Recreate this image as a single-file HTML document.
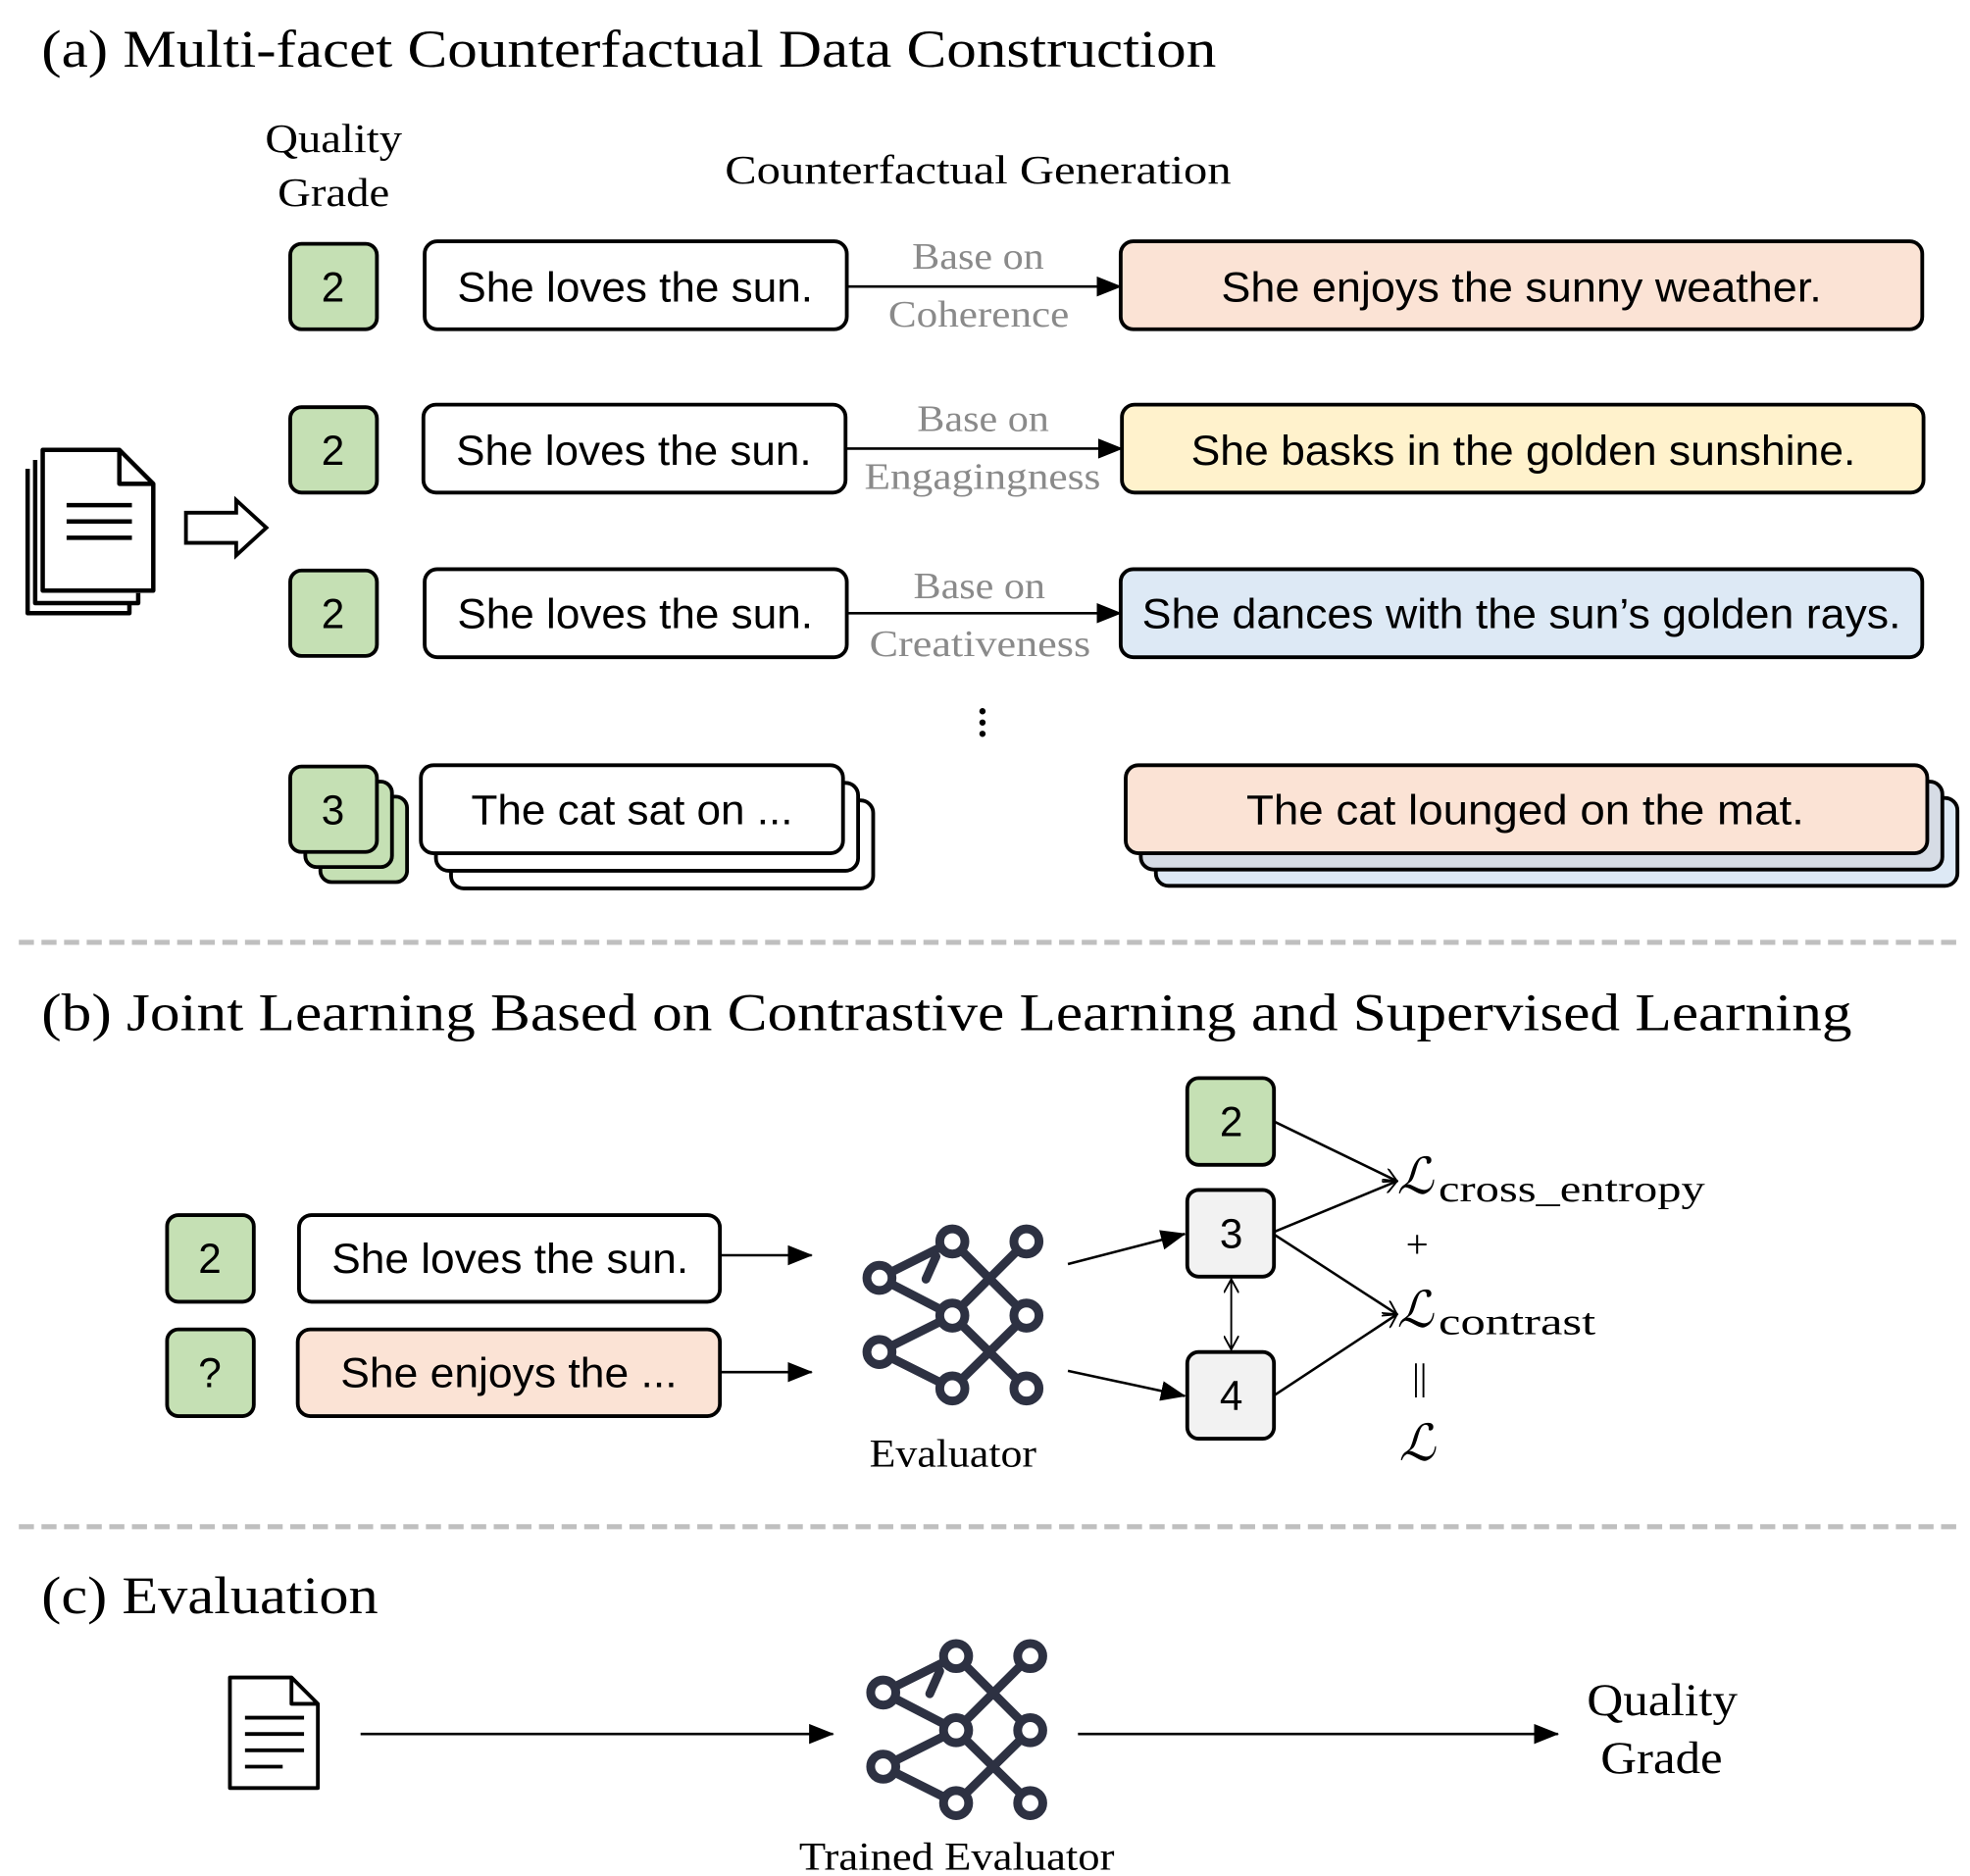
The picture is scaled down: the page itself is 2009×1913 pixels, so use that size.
<!DOCTYPE html>
<html><head><meta charset="utf-8"><style>html,body{margin:0;padding:0;background:#fff}svg{display:block}</style></head>
<body>
<svg width="2009" height="1913" viewBox="0 0 1568 1493" xmlns="http://www.w3.org/2000/svg">
<defs>
<marker id="ah2" markerWidth="20" markerHeight="16" refX="19" refY="8" orient="auto" markerUnits="userSpaceOnUse"><path d="M0,0 L20,8 L0,16 Z" fill="#000"/></marker>
<marker id="ao" markerWidth="12" markerHeight="12" refX="11" refY="6" orient="auto-start-reverse" markerUnits="userSpaceOnUse"><path d="M0,0 L11,6 L0,12" fill="none" stroke="#000" stroke-width="1.5"/></marker>
</defs>
<g font-family="Liberation Serif, serif" fill="#000" lengthAdjust="spacingAndGlyphs">
<text x="33" y="53" font-size="42" textLength="935" lengthAdjust="spacingAndGlyphs">(a) Multi-facet Counterfactual Data Construction</text>
<text x="211" y="121" font-size="32" textLength="109" lengthAdjust="spacingAndGlyphs">Quality</text>
<text x="221" y="164" font-size="32" textLength="89" lengthAdjust="spacingAndGlyphs">Grade</text>
<text x="577" y="146" font-size="32" textLength="403" lengthAdjust="spacingAndGlyphs">Counterfactual Generation</text>
<g fill="#8a8a8a" font-size="30">
<text x="726" y="214" textLength="105" lengthAdjust="spacingAndGlyphs">Base on</text><text x="707" y="260" textLength="144" lengthAdjust="spacingAndGlyphs">Coherence</text>
<text x="730" y="343" textLength="105" lengthAdjust="spacingAndGlyphs">Base on</text><text x="688" y="389" textLength="188" lengthAdjust="spacingAndGlyphs">Engagingness</text>
<text x="727" y="476" textLength="105" lengthAdjust="spacingAndGlyphs">Base on</text><text x="692" y="522" textLength="176" lengthAdjust="spacingAndGlyphs">Creativeness</text>
</g>
<text x="33" y="820" font-size="42" textLength="1441" lengthAdjust="spacingAndGlyphs">(b) Joint Learning Based on Contrastive Learning and Supervised Learning</text>
<text x="33" y="1284" font-size="42" textLength="268" lengthAdjust="spacingAndGlyphs">(c) Evaluation</text>
<text x="692" y="1167" font-size="31" textLength="133" lengthAdjust="spacingAndGlyphs">Evaluator</text>
<text x="636" y="1488" font-size="31" textLength="251" lengthAdjust="spacingAndGlyphs">Trained Evaluator</text>
<text x="1263" y="1365" font-size="36" textLength="120" lengthAdjust="spacingAndGlyphs">Quality</text>
<text x="1274" y="1411" font-size="36" textLength="97" lengthAdjust="spacingAndGlyphs">Grade</text>
<text x="1112" y="950" font-size="40" font-style="italic">ℒ</text>
<text x="1145" y="956" font-size="30" textLength="212" lengthAdjust="spacingAndGlyphs">cross_entropy</text>
<text x="1128" y="1001" font-size="32" text-anchor="middle">+</text>
<text x="1112" y="1056" font-size="40" font-style="italic">ℒ</text>
<text x="1145" y="1062" font-size="30" textLength="125" lengthAdjust="spacingAndGlyphs">contrast</text>
<text x="1130" y="1106" font-size="30" text-anchor="middle">||</text>
<text x="1128" y="1162" font-size="40" font-style="italic" text-anchor="middle">ℒ</text>
</g>

<g stroke="#000" stroke-width="3" font-family="Liberation Sans, sans-serif" font-size="33">
<rect x="231" y="194" width="69" height="68" rx="9" fill="#c5e0b4"/>
<rect x="338" y="192" width="336" height="70" rx="10" fill="#fff"/>
<rect x="892" y="192" width="638" height="70" rx="10" fill="#fbe3d5"/>
<rect x="231" y="324" width="69" height="68" rx="9" fill="#c5e0b4"/>
<rect x="337" y="322" width="336" height="70" rx="10" fill="#fff"/>
<rect x="893" y="322" width="638" height="70" rx="10" fill="#fff2cc"/>
<rect x="231" y="454" width="69" height="68" rx="9" fill="#c5e0b4"/>
<rect x="338" y="453" width="336" height="70" rx="10" fill="#fff"/>
<rect x="892" y="453" width="638" height="70" rx="10" fill="#dde9f5"/>
<rect x="255" y="634" width="69" height="68" rx="9" fill="#c5e0b4"/>
<rect x="243" y="622" width="69" height="68" rx="9" fill="#c5e0b4"/>
<rect x="231" y="610" width="69" height="68" rx="9" fill="#c5e0b4"/>
<rect x="359" y="637" width="336" height="70" rx="10" fill="#fff"/>
<rect x="347" y="623" width="336" height="70" rx="10" fill="#fff"/>
<rect x="335" y="609" width="336" height="70" rx="10" fill="#fff"/>
<rect x="920" y="635" width="638" height="70" rx="10" fill="#dde9f5"/>
<rect x="908" y="622" width="638" height="70" rx="10" fill="#d6dce5"/>
<rect x="896" y="609" width="638" height="70" rx="10" fill="#fbe3d5"/>
<rect x="133" y="967" width="69" height="69" rx="9" fill="#c5e0b4"/>
<rect x="238" y="967" width="335" height="69" rx="10" fill="#fff"/>
<rect x="133" y="1058" width="69" height="69" rx="9" fill="#c5e0b4"/>
<rect x="237" y="1058" width="336" height="69" rx="10" fill="#fbe3d5"/>
<rect x="945" y="858" width="69" height="69" rx="9" fill="#c5e0b4"/>
<rect x="945" y="947" width="69" height="69" rx="9" fill="#f2f2f2"/>
<rect x="945" y="1076" width="69" height="69" rx="9" fill="#f2f2f2"/>
<g stroke="none" fill="#000">
<g text-anchor="middle">
<text x="265" y="240">2</text><text x="265" y="370">2</text><text x="265" y="500">2</text><text x="265" y="656">3</text>
<text x="167" y="1013">2</text><text x="167" y="1104">?</text>
<text x="980" y="904">2</text><text x="980" y="993">3</text><text x="980" y="1122">4</text>
</g>
<text x="364" y="240" textLength="283" lengthAdjust="spacingAndGlyphs">She loves the sun.</text>
<text x="363" y="370" textLength="283" lengthAdjust="spacingAndGlyphs">She loves the sun.</text>
<text x="364" y="500" textLength="283" lengthAdjust="spacingAndGlyphs">She loves the sun.</text>
<text x="375" y="656" textLength="256" lengthAdjust="spacingAndGlyphs">The cat sat on ...</text>
<text x="972" y="240" textLength="478" lengthAdjust="spacingAndGlyphs">She enjoys the sunny weather.</text>
<text x="948" y="370" textLength="529" lengthAdjust="spacingAndGlyphs">She basks in the golden sunshine.</text>
<text x="909" y="500" textLength="604" lengthAdjust="spacingAndGlyphs">She dances with the sun’s golden rays.</text>
<text x="992" y="656" textLength="444" lengthAdjust="spacingAndGlyphs">The cat lounged on the mat.</text>
<text x="264" y="1013" textLength="284" lengthAdjust="spacingAndGlyphs">She loves the sun.</text>
<text x="271" y="1104" textLength="268" lengthAdjust="spacingAndGlyphs">She enjoys the ...</text>
</g>
</g>

<g stroke="#000" stroke-width="2" fill="none">
<line x1="674" y1="228" x2="892" y2="228" marker-end="url(#ah2)"/>
<line x1="673" y1="357" x2="893" y2="357" marker-end="url(#ah2)"/>
<line x1="674" y1="488" x2="892" y2="488" marker-end="url(#ah2)"/>
<line x1="573" y1="999" x2="646" y2="999" marker-end="url(#ah2)"/>
<line x1="573" y1="1092" x2="646" y2="1092" marker-end="url(#ah2)"/>
<line x1="850" y1="1006" x2="943" y2="982" marker-end="url(#ah2)"/>
<line x1="850" y1="1091" x2="943" y2="1111" marker-end="url(#ah2)"/>
<line x1="980" y1="1018" x2="980" y2="1074" marker-start="url(#ao)" marker-end="url(#ao)" stroke-width="1.5"/>
<line x1="1015" y1="893" x2="1112" y2="940" marker-end="url(#ao)"/>
<line x1="1015" y1="980" x2="1112" y2="940" marker-end="url(#ao)"/>
<line x1="1015" y1="983" x2="1112" y2="1046" marker-end="url(#ao)"/>
<line x1="1015" y1="1110" x2="1112" y2="1046" marker-end="url(#ao)"/>
<line x1="287" y1="1380" x2="663" y2="1380" marker-end="url(#ah2)"/>
<line x1="858" y1="1380" x2="1240" y2="1380" marker-end="url(#ah2)"/>
</g>
<g fill="#000"><circle cx="782" cy="566" r="2.5"/><circle cx="782" cy="575" r="2.5"/><circle cx="782" cy="584" r="2.5"/></g>

<line x1="15" y1="750" x2="1563" y2="750" stroke="#bfbfbf" stroke-width="4" stroke-dasharray="12 6"/>
<line x1="15" y1="1215" x2="1563" y2="1215" stroke="#bfbfbf" stroke-width="4" stroke-dasharray="12 6"/>

<g stroke="#000" stroke-width="3.5" fill="#fff" stroke-linejoin="round">
<path d="M22,373 L22,488 L103,488 L103,480"/>
<path d="M28,366 L28,480 L110,480 L110,472"/>
<path d="M34,358 L95,358 L122,385 L122,470 L34,470 Z"/>
<path d="M95,358 L95,385 L122,385" fill="none"/>
<line x1="53" y1="402" x2="105" y2="402"/><line x1="53" y1="415" x2="105" y2="415"/><line x1="53" y1="428" x2="105" y2="428"/>
</g>
<path d="M148,408 L188,408 L188,398 L212,420 L188,442 L188,432 L148,432 Z" fill="#fff" stroke="#000" stroke-width="3"/>
<g stroke="#000" stroke-width="3" fill="#fff" stroke-linejoin="round">
<path d="M183,1335 L232,1335 L253,1356 L253,1423 L183,1423 Z"/>
<path d="M232,1335 L232,1356 L253,1356" fill="none"/>
<line x1="195" y1="1367" x2="242" y2="1367"/><line x1="195" y1="1380" x2="242" y2="1380"/><line x1="195" y1="1393" x2="242" y2="1393"/><line x1="195" y1="1406" x2="225" y2="1406"/>
</g>

<g id="net" stroke="#2d3142" stroke-width="7" fill="#fff" stroke-linecap="round">
<line x1="700" y1="1017" x2="758" y2="988"/><line x1="700" y1="1017" x2="758" y2="1047"/>
<line x1="700" y1="1076" x2="758" y2="1047"/><line x1="700" y1="1076" x2="758" y2="1105"/>
<line x1="758" y1="988" x2="817" y2="1047"/><line x1="758" y1="1047" x2="817" y2="988"/>
<line x1="758" y1="1047" x2="817" y2="1105"/><line x1="758" y1="1105" x2="817" y2="1047"/>
<line x1="737" y1="1018" x2="745" y2="1000"/>
<circle cx="700" cy="1017" r="10"/><circle cx="700" cy="1076" r="10"/>
<circle cx="758" cy="988" r="10"/><circle cx="758" cy="1047" r="10"/><circle cx="758" cy="1105" r="10"/>
<circle cx="817" cy="988" r="10"/><circle cx="817" cy="1047" r="10"/><circle cx="817" cy="1105" r="10"/>
</g>
<use href="#net" transform="translate(3,330)"/>
</svg>
</body></html>
